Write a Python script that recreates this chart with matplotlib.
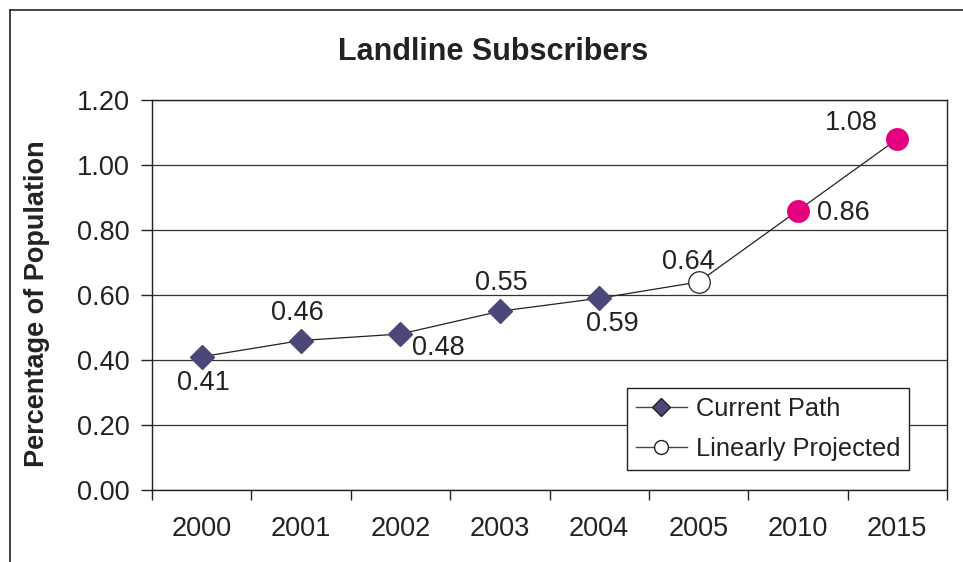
import matplotlib
matplotlib.use("Agg")
import matplotlib.pyplot as plt
from matplotlib.lines import Line2D

plt.rcParams['font.family'] = ['Liberation Sans', 'DejaVu Sans']

categories = ['2000', '2001', '2002', '2003', '2004', '2005', '2010', '2015']
values = [0.41, 0.46, 0.48, 0.55, 0.59, 0.64, 0.86, 1.08]
current_idx = [0, 1, 2, 3, 4]
projected_idx = [5]
highlight_idx = [6, 7]
label_offsets_px = [(2, -26), (-4, 27), (38, -14), (2, 28), (13, -26), (-10, 20), (45, -3), (-46, 16)]
yticks = [0.0, 0.2, 0.4, 0.6, 0.8, 1.0, 1.2]

navy = '#4b4877'
magenta = '#e5007e'

fig = plt.figure(figsize=(9.63, 5.62), dpi=100)
W, H = 963, 562
ax = fig.add_axes([152 / W, 1 - 490 / H, (947 - 152) / W, (490 - 100) / H])

x = list(range(len(categories)))
ax.plot(x, values, color='#222222', lw=0.9, zorder=3)
ax.plot([x[i] for i in current_idx], [values[i] for i in current_idx], ls='none',
        marker='D', ms=12.5, mfc=navy, mec=navy, zorder=4)
ax.plot([x[i] for i in projected_idx], [values[i] for i in projected_idx], ls='none',
        marker='o', ms=15.5, mfc='white', mec='#222222', mew=0.9, zorder=4)
ax.plot([x[i] for i in highlight_idx], [values[i] for i in highlight_idx], ls='none',
        marker='o', ms=15.5, mfc=magenta, mec=magenta, zorder=4)

for i, v in enumerate(values):
    dx, dy = label_offsets_px[i]
    ax.annotate(f'{v:.2f}', (x[i], v), xytext=(dx * 0.72, dy * 0.72), textcoords='offset points',
                ha='center', va='center', fontsize=19.5, color='#222222', zorder=5)

ax.set_xlim(-0.5, len(categories) - 0.5)
ax.set_ylim(0, 1.2)
ax.set_yticks(yticks)
ax.set_yticklabels([f'{t:.2f}' for t in yticks])
ax.set_xticks(x)
ax.set_xticklabels(categories)
ax.set_xticks([i + 0.5 for i in range(-1, len(categories))], minor=True)
ax.tick_params(axis='x', which='major', length=0, pad=19, labelsize=19.5, labelcolor='#222222')
ax.tick_params(axis='x', which='minor', length=7, width=1, color='#222222', direction='out')
ax.tick_params(axis='y', length=8, width=1, color='#222222', direction='out', pad=8,
               labelsize=19.5, labelcolor='#222222')
for s in ax.spines.values():
    s.set_color('#222222')
    s.set_linewidth(1)
ax.yaxis.grid(True, color='#333333', lw=0.9)
ax.set_axisbelow(True)

ax.set_ylabel('Percentage of Population', fontsize=19.5, fontweight='bold', color='#222222')
ax.yaxis.set_label_coords(50 / W, 1 - 304 / H, transform=fig.transFigure)

fig.text(493 / W, 1 - 52 / H, 'Landline Subscribers', ha='center', va='center',
         fontsize=22, fontweight='bold', color='#222222')

handles = [
    Line2D([], [], color='#444444', lw=1, marker='D', ms=9, mfc=navy, mec='#222222'),
    Line2D([], [], color='#444444', lw=1, marker='o', ms=10, mfc='white', mec='#222222'),
]
leg = ax.legend(handles, ['Current Path', 'Linearly Projected'], loc='lower right',
                bbox_to_anchor=((909 - 152) / (947 - 152), (490 - 470) / (490 - 100)),
                fontsize=18.3, frameon=True, fancybox=False, framealpha=1, edgecolor='#222222',
                borderaxespad=0, handlelength=2.0, handletextpad=0.35, borderpad=0.35,
                labelspacing=0.65)
leg.get_frame().set_linewidth(1)
for t in leg.get_texts():
    t.set_color('#222222')

# outer frame (continues beyond right and bottom edge)
fig.add_artist(Line2D([10 / W, 10 / W], [1 - 10 / H, 0], transform=fig.transFigure,
                      color='#222222', lw=1.2))
fig.add_artist(Line2D([10 / W, 1], [1 - 10 / H, 1 - 10 / H], transform=fig.transFigure,
                      color='#222222', lw=1.2))

fig.savefig('out.png', dpi=100)
